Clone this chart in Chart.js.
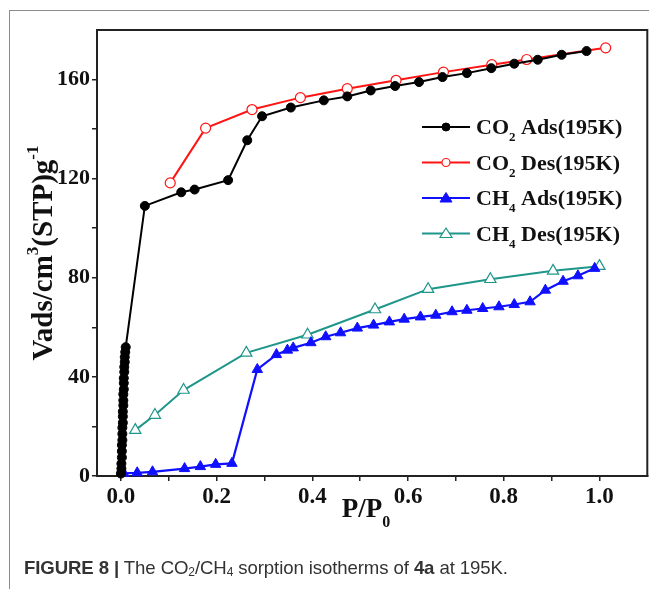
<!DOCTYPE html>
<html>
<head>
<meta charset="utf-8">
<script src="https://cdn.jsdelivr.net/npm/chart.js@4.4.1/dist/chart.umd.min.js"></script>
<style>
html, body { margin: 0; padding: 0; background: #fff; }
#wrap { position: relative; width: 649px; height: 589px; overflow: hidden; }
#frame { position: absolute; left: 9px; top: 10px; width: 700px; height: 700px;
         border-left: 1.5px solid #8c8c8c; border-top: 1.5px solid #8c8c8c; }
#chart { position: absolute; left: 0; top: 0; }
#caption { position: absolute; left: 24px; top: 557px; white-space: nowrap;
           font: 18.6px "Liberation Sans", Arial, sans-serif; color: #333; letter-spacing: -0.1px; }
#caption sub { font-size: 12px; vertical-align: -2px; line-height: 0; }
</style>
</head>
<body>
<div id="wrap">
  <div id="frame"></div>
  <canvas id="chart" width="655" height="589"></canvas>
  <div id="caption"><b>FIGURE 8 |</b> The CO<sub>2</sub>/CH<sub>4</sub> sorption isotherms of <b>4a</b> at 195K.</div>
</div>
<script>
// --- data ---
const co2AdsP = [0.000, 0.001, 0.001, 0.002, 0.002, 0.002, 0.003, 0.003, 0.003, 0.004, 0.004, 0.004,
                 0.005, 0.005, 0.005, 0.006, 0.006, 0.006, 0.007, 0.007, 0.008, 0.008, 0.009, 0.010,
                 0.050, 0.126, 0.154, 0.224, 0.264, 0.295, 0.355, 0.424, 0.473, 0.522, 0.573, 0.623,
                 0.672, 0.723, 0.774, 0.822, 0.871, 0.921, 0.973];
const co2AdsV = [1, 3, 5, 7.5, 10, 12.5, 14.5, 17, 19.5, 21.5, 24, 26,
                 28.5, 30.5, 33, 35, 37.5, 39.5, 42, 44, 46, 48, 50, 52,
                 109, 114.5, 115.6, 119.4, 135.5, 145.2, 148.7, 151.6, 153.2, 155.6, 157.4, 159,
                 161, 162.6, 164.6, 166.4, 168, 170, 171.5];

const co2DesP = [1.013, 0.848, 0.775, 0.674, 0.575, 0.473, 0.375, 0.274, 0.177, 0.103];
const co2DesV = [172.8, 168.1, 166, 163, 159.7, 156.3, 152.7, 147.9, 140.4, 118.3];

const ch4AdsP = [0.006, 0.034, 0.066, 0.133, 0.166, 0.198, 0.232, 0.285, 0.325, 0.348, 0.360,
                 0.397, 0.428, 0.459, 0.494, 0.528, 0.561, 0.592, 0.626, 0.658, 0.692, 0.723,
                 0.756, 0.790, 0.822, 0.855, 0.887, 0.924, 0.955, 0.990];
const ch4AdsV = [1.1, 1.3, 1.7, 3, 3.8, 4.7, 5.1, 43, 49, 50.8, 51.7,
                 53.8, 56.2, 57.8, 59.7, 60.9, 62.2, 63.3, 64.2, 64.9, 66.3, 66.9,
                 67.6, 68.3, 69.2, 70.3, 75, 78.6, 80.8, 83.8];

const ch4DesP = [1.000, 0.903, 0.772, 0.642, 0.531, 0.390, 0.262, 0.131, 0.071, 0.030];
const ch4DesV = [84.7, 82.8, 79.4, 75.4, 67.2, 57, 49.7, 34.7, 24.6, 18.5];

const xTicks = [0, 0.1, 0.2, 0.3, 0.4, 0.5, 0.6, 0.7, 0.8, 0.9, 1.0];
const xTickLabels = ['0.0', '', '0.2', '', '0.4', '', '0.6', '', '0.8', '', '1.0'];
const yTicks = [0, 20, 40, 60, 80, 100, 120, 140, 160];
const yTickLabels = ['0', '', '40', '', '80', '', '120', '', '160'];

const seriesNames = [['CO', '2', ' Ads(195K)'], ['CO', '2', ' Des(195K)'],
                     ['CH', '4', ' Ads(195K)'], ['CH', '4', ' Des(195K)']];

const SERIF = '"Liberation Serif", "Times New Roman", serif';
const pts = (xs, ys) => xs.map((x, i) => ({ x: x, y: ys[i] }));

// text with sub/superscripts: parts = [[text, size, dy], ...]
function richWidth(ctx, parts) {
    let w = 0;
    parts.forEach(p => { ctx.font = 'bold ' + p[1] + 'px ' + SERIF; w += ctx.measureText(p[0]).width; });
    return w;
}
function drawRich(ctx, parts, x, y) {
    parts.forEach(p => {
        ctx.font = 'bold ' + p[1] + 'px ' + SERIF;
        ctx.fillText(p[0], x, y + p[2]);
        x += ctx.measureText(p[0]).width;
    });
}

const extras = {
    id: 'extras',
    afterDraw(chart) {
        const ctx = chart.ctx, a = chart.chartArea;
        ctx.save();
        // top & right frame
        ctx.strokeStyle = '#222';
        ctx.lineWidth = 2;
        ctx.beginPath();
        ctx.moveTo(a.left, a.top); ctx.lineTo(a.right, a.top); ctx.lineTo(a.right, a.bottom);
        ctx.stroke();

        ctx.fillStyle = '#111';
        ctx.textBaseline = 'alphabetic';
        ctx.textAlign = 'left';

        // x title
        const xt = [['P/P', 27, 0], ['0', 16, 10]];
        drawRich(ctx, xt, 366 - richWidth(ctx, xt) / 2, 517);

        // y title
        const yt = [['Vads/cm', 29, 0], ['3', 17, -14], ['(STP)g', 29, 0], ['-1', 17, -14]];
        ctx.translate(52, 253);
        ctx.rotate(-Math.PI / 2);
        drawRich(ctx, yt, -richWidth(ctx, yt) / 2, 0);
        ctx.restore();

        // legend
        ctx.save();
        chart.data.datasets.forEach((ds, i) => {
            const cy = 127 + i * 35.5;
            ctx.strokeStyle = ds.borderColor;
            ctx.lineWidth = 2;
            ctx.beginPath(); ctx.moveTo(422, cy); ctx.lineTo(470, cy); ctx.stroke();
            ctx.fillStyle = ds.pointBackgroundColor;
            ctx.strokeStyle = ds.pointBorderColor;
            ctx.lineWidth = ds.pointBorderWidth;
            ctx.beginPath();
            if (ds.pointStyle === 'circle') ctx.arc(446, cy, 4, 0, Math.PI * 2);
            else { ctx.moveTo(446, cy - 5.5); ctx.lineTo(452, cy + 4); ctx.lineTo(440, cy + 4); ctx.closePath(); }
            ctx.fill(); ctx.stroke();
            const n = seriesNames[i];
            ctx.fillStyle = '#111';
            drawRich(ctx, [[n[0], 22, 0], [n[1], 13, 7], [n[2], 22, 0]], 476, cy + 7);
        });
        ctx.restore();
    }
};

new Chart(document.getElementById('chart'), {
    type: 'scatter',
    data: {
        datasets: [
            { label: 'CO2 Ads(195K)', data: pts(co2AdsP, co2AdsV), showLine: true,
              borderColor: '#000', borderWidth: 2, pointStyle: 'circle', pointRadius: 4.5,
              pointBackgroundColor: '#000', pointBorderColor: '#000', pointBorderWidth: 1, clip: false },
            { label: 'CO2 Des(195K)', data: pts(co2DesP, co2DesV), showLine: true,
              borderColor: '#ff1414', borderWidth: 2, pointStyle: 'circle', pointRadius: 5,
              pointBackgroundColor: '#fff', pointBorderColor: '#ff1414', pointBorderWidth: 1.2, clip: false },
            { label: 'CH4 Ads(195K)', data: pts(ch4AdsP, ch4AdsV), showLine: true,
              borderColor: '#1010ff', borderWidth: 2.2, pointStyle: 'triangle', pointRadius: 6,
              pointBackgroundColor: '#1010ff', pointBorderColor: '#1010ff', pointBorderWidth: 1, clip: false },
            { label: 'CH4 Des(195K)', data: pts(ch4DesP, ch4DesV), showLine: true,
              borderColor: '#1f968a', borderWidth: 2, pointStyle: 'triangle', pointRadius: 6.5,
              pointBackgroundColor: '#fff', pointBorderColor: '#1f968a', pointBorderWidth: 1.2, clip: false }
        ]
    },
    options: {
        responsive: false,
        animation: false,
        layout: { padding: { left: 0, top: 30, right: 0, bottom: 0 } },
        plugins: { legend: { display: false }, tooltip: { enabled: false } },
        scales: {
            x: {
                type: 'linear', min: -0.05, max: 1.1,
                afterBuildTicks: s => { s.ticks = xTicks.map(v => ({ value: v })); },
                afterFit: s => { s.height = 113; s.paddingLeft = 0; s.paddingRight = 0; },
                ticks: {
                    autoSkip: false, maxRotation: 0, padding: 2, color: '#111',
                    font: { family: SERIF, size: 23, weight: 'bold' },
                    callback: (v, i) => xTickLabels[i]
                },
                grid: { drawOnChartArea: false, drawTicks: true, tickLength: 5, color: '#222', lineWidth: 1.5 },
                border: { display: true, color: '#222', width: 2 }
            },
            y: {
                min: 0, max: 180,
                afterBuildTicks: s => { s.ticks = yTicks.map(v => ({ value: v })); },
                afterFit: s => { s.width = 97; s.paddingTop = 0; s.paddingBottom = 0; },
                ticks: {
                    autoSkip: false, padding: 2, color: '#111',
                    font: { family: SERIF, size: 22, weight: 'bold' },
                    callback: (v, i) => yTickLabels[i]
                },
                grid: { drawOnChartArea: false, drawTicks: true, tickLength: 5, color: '#222', lineWidth: 1.5 },
                border: { display: true, color: '#222', width: 2 }
            }
        }
    },
    plugins: [extras]
});
</script>
</body>
</html>
